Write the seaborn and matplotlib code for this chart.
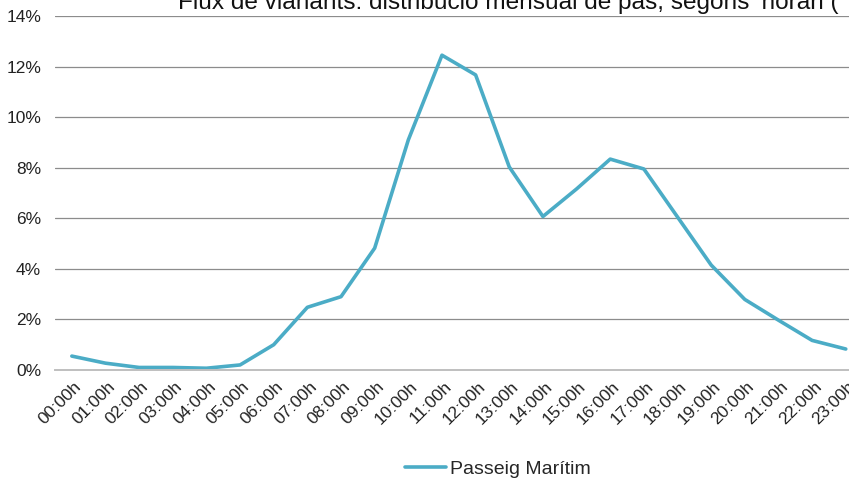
import matplotlib
matplotlib.use('Agg')
import matplotlib.pyplot as plt
import matplotlib.transforms as mtransforms
import seaborn as sns
import pandas as pd

# hourly share of pedestrian flow (%)
hours = ['00:00h', '01:00h', '02:00h', '03:00h', '04:00h', '05:00h', '06:00h', '07:00h',
         '08:00h', '09:00h', '10:00h', '11:00h', '12:00h', '13:00h', '14:00h', '15:00h',
         '16:00h', '17:00h', '18:00h', '19:00h', '20:00h', '21:00h', '22:00h', '23:00h']
passeig_maritim = [0.55, 0.27, 0.10, 0.10, 0.07, 0.20, 1.00, 2.48, 2.90, 4.82, 9.10, 12.45,
                   11.67, 8.03, 6.07, 7.16, 8.34, 7.95, 6.05, 4.15, 2.79, 1.97, 1.17, 0.83]
y_ticks = [0, 2, 4, 6, 8, 10, 12, 14]
series_name = 'Passeig Marítim'
title = "Flux de vianants: distribució mensual de pas, segons ’horari ("

df = pd.DataFrame({'Hora': hours, 'Percent': passeig_maritim})

sns.set_theme(style='white')
plt.rcParams['font.family'] = ['Liberation Sans', 'DejaVu Sans']

fig = plt.figure(figsize=(8.49, 4.82), dpi=100)
ax = fig.add_axes([55 / 849, 112 / 482, 807.6 / 849, 354 / 482])

sns.lineplot(data=df, x='Hora', y='Percent', color='#4BACC6', linewidth=2.6,
             label=series_name, ax=ax, sort=False)

ax.set_xlim(-0.5, 23.5)
ax.set_ylim(0, 14)
ax.set_yticks(y_ticks)
ax.set_yticklabels([f'{v}%' for v in y_ticks])
ax.set_xlabel('')
ax.set_ylabel('')
ax.grid(axis='y', color='#8C8C8C', linewidth=0.9)
ax.set_axisbelow(True)
for s in ['top', 'right', 'left']:
    ax.spines[s].set_visible(False)
ax.spines['bottom'].set_color('#BFBFBF')
ax.spines['bottom'].set_linewidth(1.4)
ax.tick_params(axis='both', length=0, labelsize=12.5, colors='#222222')
ax.tick_params(axis='y', pad=10)
ax.tick_params(axis='x', pad=10)

offset = mtransforms.ScaledTranslation(7 / 100, 0, fig.dpi_scale_trans)
for lab in ax.get_xticklabels():
    lab.set_rotation(45)
    lab.set_ha('right')
    lab.set_va('center')
    lab.set_rotation_mode('anchor')
    lab.set_transform(lab.get_transform() + offset)

ax.get_legend().remove()
handles, labels = ax.get_legend_handles_labels()
fig.legend(handles, labels, loc='center', bbox_to_anchor=(498 / 849, 1 - 469 / 482),
           frameon=False, fontsize=14, handlelength=2.1, handletextpad=0.2)

fig.text(178 / 849, 1 - 9 / 482, title, fontsize=17.6, ha='left', va='baseline', color='#111111')

fig.savefig('out.png', dpi=100)
